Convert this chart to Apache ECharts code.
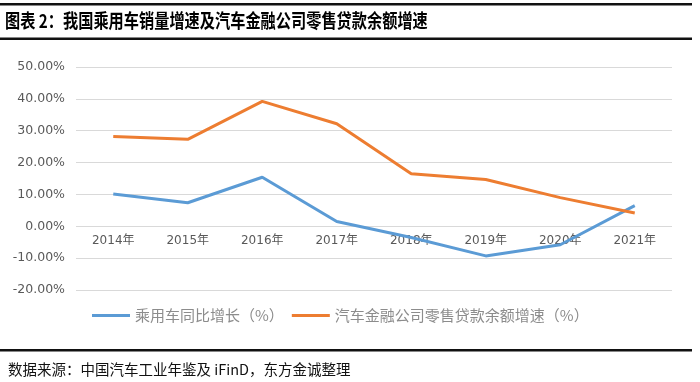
<!DOCTYPE html>
<html>
<head>
<meta charset="utf-8">
<script src="https://cdn.jsdelivr.net/npm/echarts@6/dist/echarts.min.js"></script>
<style>html,body{margin:0;padding:0;background:#fff;}#c{width:700px;height:382px;}</style>
</head>
<body>
<div id="c"></div>
<script>
const categories = ['2014年','2015年','2016年','2017年','2018年','2019年','2020年','2021年'];
const passengerCarGrowth = [10.1, 7.4, 15.4, 1.5, -3.5, -9.3, -5.8, 6.5];
const autoFinanceLoanGrowth = [28.2, 27.3, 39.2, 32.2, 16.5, 14.7, 9.0, 4.2];
const seriesNames = ['乘用车同比增长（%）', '汽车金融公司零售贷款余额增速（%）'];
const titleText = '图表 2：我国乘用车销量增速及汽车金融公司零售贷款余额增速';
const sourceText = '数据来源：中国汽车工业年鉴及 iFinD，东方金诚整理';
const yMin = -20, yMax = 50, yStep = 10;

const W = 700, H = 382;
const gridTop = 67, gridBottom = 92;
const plotH = H - gridTop - gridBottom;
const zeroOffset = -plotH * (0 - yMin) / (yMax - yMin);

const chart = echarts.init(document.getElementById('c'), null, {renderer: 'canvas'});
const font = '"Noto Sans CJK SC", "Microsoft YaHei", sans-serif';
const axisFont = '"DejaVu Sans", "Noto Sans CJK SC", sans-serif';
chart.setOption({
  backgroundColor: '#fff',
  animation: false,
  textStyle: {fontFamily: font},
  graphic: [
    {type: 'rect', shape: {x: 0, y: 3, width: 692, height: 2.5}, style: {fill: '#111'}},
    {type: 'text', x: 5, y: 21, scaleX: 0.8,
     style: {text: titleText, font: 'bold 19px ' + font, fill: '#000', verticalAlign: 'middle', textVerticalAlign: 'middle'}},
    {type: 'rect', shape: {x: 0, y: 37.5, width: 692, height: 2.5}, style: {fill: '#111'}},
    {type: 'rect', shape: {x: 0, y: 349, width: 692, height: 2.5}, style: {fill: '#111'}},
    {type: 'text', x: 8, y: 369,
     style: {text: sourceText, font: '14.5px ' + font, fill: '#111', verticalAlign: 'middle', textVerticalAlign: 'middle'}}
  ],
  grid: {left: 76, right: 28, top: gridTop, bottom: gridBottom, containLabel: false},
  legend: {
    top: 303, left: 87,
    icon: 'rect', itemWidth: 38, itemHeight: 3, itemGap: 8,
    textStyle: {color: '#8c8c8c', fontSize: 15, fontFamily: font},
    data: seriesNames
  },
  xAxis: {
    type: 'category', data: categories, boundaryGap: true,
    position: 'bottom', offset: zeroOffset,
    axisLine: {show: false, onZero: false},
    axisTick: {show: false},
    axisLabel: {color: '#595959', fontSize: 12, margin: 9, fontFamily: axisFont}
  },
  yAxis: {
    type: 'value', min: yMin, max: yMax, interval: yStep,
    axisLine: {show: false}, axisTick: {show: false},
    axisLabel: {color: '#595959', fontSize: 12.5, margin: 11, formatter: v => v.toFixed(2) + '%', fontFamily: axisFont},
    splitLine: {lineStyle: {color: '#d9d9d9', width: 1}}
  },
  series: [
    {name: seriesNames[0], type: 'line', data: passengerCarGrowth, symbol: 'none',
     lineStyle: {color: '#5B9BD5', width: 3}, itemStyle: {color: '#5B9BD5'}},
    {name: seriesNames[1], type: 'line', data: autoFinanceLoanGrowth, symbol: 'none',
     lineStyle: {color: '#ED7D31', width: 3}, itemStyle: {color: '#ED7D31'}}
  ]
});
</script>
</body>
</html>
